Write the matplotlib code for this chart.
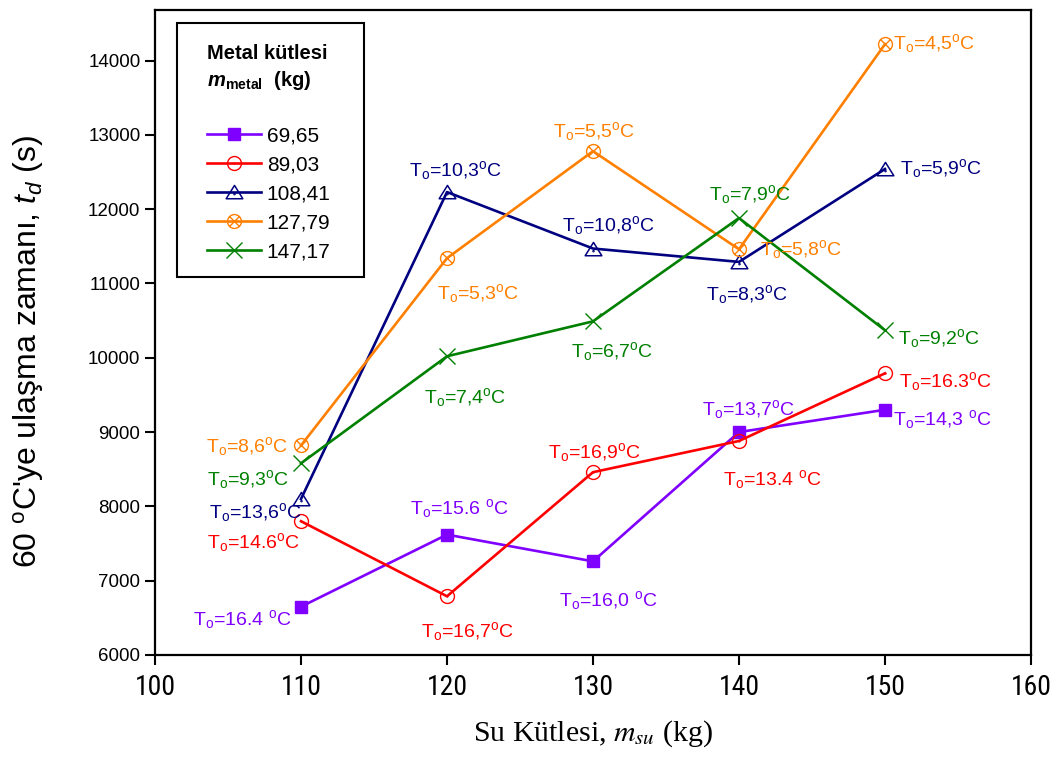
import matplotlib
matplotlib.use("Agg")
import matplotlib.pyplot as plt
from matplotlib.path import Path
from matplotlib.patches import Rectangle
import numpy as np

plt.rcParams['font.family'] = ['Liberation Sans', 'DejaVu Sans']
plt.rcParams['mathtext.fontset'] = 'custom'
plt.rcParams['mathtext.rm'] = 'Liberation Sans'
plt.rcParams['mathtext.it'] = 'Liberation Sans:italic'
plt.rcParams['mathtext.bf'] = 'Liberation Sans:bold'
plt.rcParams['mathtext.bfit'] = 'Liberation Sans:bold:italic'
NARROW = ['Liberation Sans Narrow', 'Roboto Condensed', 'Archivo Narrow', 'Liberation Sans']

# data
su_mass = [110, 120, 130, 140, 150]
metal_labels = ['69,65', '89,03', '108,41', '127,79', '147,17']
t_6965 = [6650, 7620, 7260, 9000, 9300]
t_8903 = [7800, 6790, 8460, 8880, 9790]
t_10841 = [8100, 12230, 11470, 11290, 12540]
t_12779 = [8820, 11340, 12780, 11460, 14220]
t_14717 = [8580, 10020, 10490, 11880, 10370]

T0_6965 = ['16.4 $^\\mathrm{o}$C', '15.6 $^\\mathrm{o}$C', '16,0 $^\\mathrm{o}$C', '13,7$^\\mathrm{o}$C', '14,3 $^\\mathrm{o}$C']
T0_8903 = ['14.6$^\\mathrm{o}$C', '16,7$^\\mathrm{o}$C', '16,9$^\\mathrm{o}$C', '13.4 $^\\mathrm{o}$C', '16.3$^\\mathrm{o}$C']
T0_10841 = ['13,6$^\\mathrm{o}$C', '10,3$^\\mathrm{o}$C', '10,8$^\\mathrm{o}$C', '8,3$^\\mathrm{o}$C', '5,9$^\\mathrm{o}$C']
T0_12779 = ['8,6$^\\mathrm{o}$C', '5,3$^\\mathrm{o}$C', '5,5$^\\mathrm{o}$C', '5,8$^\\mathrm{o}$C', '4,5$^\\mathrm{o}$C']
T0_14717 = ['9,3$^\\mathrm{o}$C', '7,4$^\\mathrm{o}$C', '6,7$^\\mathrm{o}$C', '7,9$^\\mathrm{o}$C', '9,2$^\\mathrm{o}$C']

# label offsets in pixels (dx, dy, ha)
off_6965 = [(-59, -13, 'center'), (12, 26, 'center'), (15, -39, 'center'), (10, 23, 'center'), (8, -10, 'left')]
off_8903 = [(-47, -21, 'center'), (21, -35, 'center'), (2, 20, 'center'), (33, -39, 'center'), (14, -8, 'left')]
off_10841 = [(-45, -14, 'center'), (9, 22, 'center'), (16, 23, 'center'), (8, -33, 'center'), (15, 1, 'left')]
off_12779 = [(-54, -1, 'center'), (31, -35, 'center'), (1, 20, 'center'), (21, 0, 'left'), (8, 1, 'left')]
off_14717 = [(-53, -16, 'center'), (18, -41, 'center'), (19, -30, 'center'), (11, 24, 'center'), (13, -8, 'left')]

# markers
dot = Path.circle((0, 0), 0.06)
circ_dot = Path.make_compound_path(Path.unit_circle(), dot)
tri = Path([(0, 0.85), (-1, -0.75), (1, -0.75), (0, 0.85)],
           [Path.MOVETO, Path.LINETO, Path.LINETO, Path.CLOSEPOLY])
tri_dot = Path.make_compound_path(tri, Path.circle((0, -0.2), 0.06))
k = 0.707
xlines = Path([(-k, -k), (k, k), (-k, k), (k, -k)],
              [Path.MOVETO, Path.LINETO, Path.MOVETO, Path.LINETO])
circ_x = Path.make_compound_path(Path.unit_circle(), xlines)

series = [
    (t_6965, T0_6965, off_6965, '#8000FF', dict(marker='s', ms=9, mfc='#8000FF', mew=1)),
    (t_8903, T0_8903, off_8903, '#FF0000', dict(marker=circ_dot, ms=10, mfc='none', mew=1)),
    (t_10841, T0_10841, off_10841, '#000080', dict(marker=tri_dot, ms=12, mfc='none', mew=1.1)),
    (t_12779, T0_12779, off_12779, '#FF8000', dict(marker=circ_x, ms=10, mfc='none', mew=1)),
    (t_14717, T0_14717, off_14717, '#008000', dict(marker='x', ms=12, mew=1)),
]

fig = plt.figure(figsize=(10.56, 7.64), dpi=100)
ax = fig.add_axes([0.1468, 0.1427, 0.8295, 0.8442])

for (vals, temps, offs, col, mk), lab in zip(series, metal_labels):
    ax.plot(su_mass, vals, color=col, lw=1.9, mec=col, label=lab, **mk)
    for x, y, t, (dx, dy, ha) in zip(su_mass, vals, temps, offs):
        ax.annotate('T$_\\mathrm{o}$=' + t, (x, y), xytext=(dx, dy), textcoords='offset pixels',
                    ha=ha, va='center', color=col, fontsize=14)

ax.set_xlim(100, 160)
ax.set_ylim(6000, 14680)
ax.set_xticks(np.arange(100, 161, 10))
ax.set_yticks(np.arange(6000, 14001, 1000))
for s in ax.spines.values():
    s.set_linewidth(1.6)
ax.tick_params(direction='out', length=7, width=1.5, labelsize=13.5)
ax.tick_params(axis='x', pad=7)
for lbl in ax.get_xticklabels():
    lbl.set_family(NARROW)
    lbl.set_fontsize(20)

ax.set_xlabel('Su Kütlesi, $m_{su}$ (kg)', family='Liberation Serif', math_fontfamily='stix',
              fontsize=21.5)
ax.xaxis.set_label_coords(0.5, -0.098)
ax.set_ylabel('60 $^\\mathrm{o}$C\'ye ulaşma zamanı, $t_d$ (s)', fontsize=23)
ax.yaxis.set_label_coords(-0.124, 0.471)

# legend box
ax.add_patch(Rectangle((0.0251, 0.586), 0.2135, 0.3938, transform=ax.transAxes,
                       fill=True, facecolor='white', edgecolor='black', lw=1.5, zorder=5))
leg = ax.legend(loc='upper left', bbox_to_anchor=(0.048, 0.963),
                title='Metal kütlesi\n$\\mathbfit{m}_{\\mathbf{metal}}$  (kg)\n ',
                alignment='left', fontsize=15, handlelength=2.55, handletextpad=0.3,
                labelspacing=0.48, borderpad=0, frameon=False)
leg.set_zorder(6)
leg.get_title().set_fontweight('bold')
leg.get_title().set_fontsize(14.5)
leg.get_title().set_linespacing(1.35)

fig.savefig('out.png', dpi=100)
